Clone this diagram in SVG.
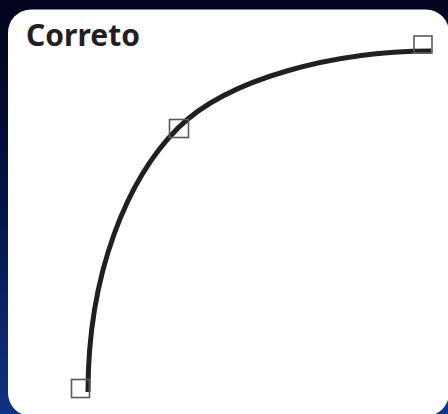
<svg xmlns="http://www.w3.org/2000/svg" width="448" height="414" viewBox="0 0 448 414">
  <defs>
    <linearGradient id="bg" x1="0" y1="0" x2="0" y2="1">
      <stop offset="0" stop-color="#03031c"/>
      <stop offset="0.5" stop-color="#021447"/>
      <stop offset="1" stop-color="#0f3385"/>
    </linearGradient>
    <style>
      .handle { fill: none; stroke: #5a5a5a; stroke-width: 1.6; }
      .curve { fill: none; stroke: #231f20; stroke-width: 5; stroke-linecap: butt; }
      .title { font-family: "Noto Sans", "Open Sans", sans-serif; font-weight: bold; font-size: 30px; fill: #231f20; }
    </style>
  </defs>
  <rect x="0" y="0" width="448" height="414" fill="url(#bg)"/>
  <rect id="panel" x="8" y="9.5" width="441" height="406.5" rx="23" ry="23" fill="#ffffff"/>
  <text class="title" x="26" y="46">Correto</text>
  <g id="connectors">
    <path class="curve" d="M88,392 C88,272 128,178 178,128 C228,78 336,51 431,51"/>
  </g>
  <g id="handle-start"><rect class="handle" x="71.5" y="379.5" width="18" height="18"/></g>
  <g id="handle-mid"><rect class="handle" x="169.5" y="119.5" width="19" height="18"/></g>
  <g id="handle-end"><rect class="handle" x="414" y="36" width="18" height="17"/></g>
</svg>
